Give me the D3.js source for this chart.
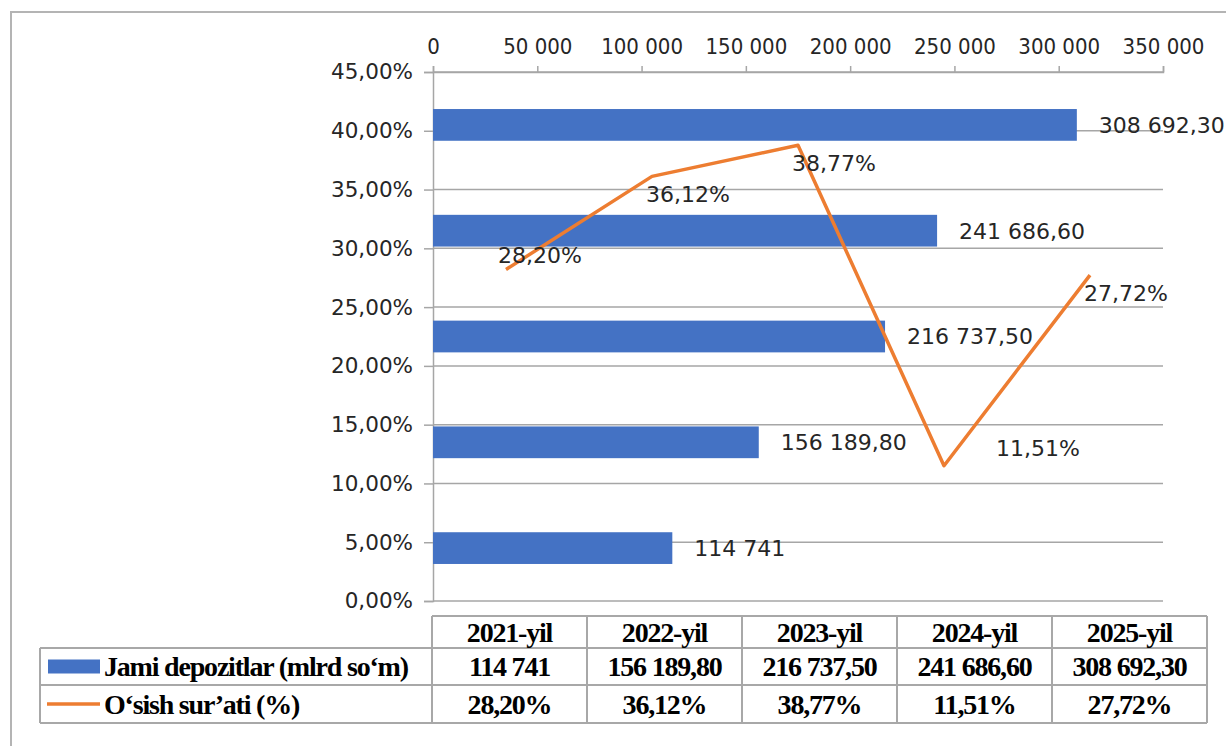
<!DOCTYPE html>
<html><head><meta charset="utf-8">
<script src="https://cdn.jsdelivr.net/npm/d3@7/dist/d3.min.js"></script>
<style>
html,body{margin:0;padding:0;background:#fff;}
svg{display:block;}
</style></head>
<body>
<svg id="chart" width="1226" height="746"></svg>
<script>
const years = ["2021-yil","2022-yil","2023-yil","2024-yil","2025-yil"];
const deposits = [114741, 156189.80, 216737.50, 241686.60, 308692.30];
const depositLabels = ["114 741","156 189,80","216 737,50","241 686,60","308 692,30"];
const growth = [0.2820, 0.3612, 0.3877, 0.1151, 0.2772];
const growthLabels = ["28,20%","36,12%","38,77%","11,51%","27,72%"];
const xTicks = [0,50000,100000,150000,200000,250000,300000,350000];
const yTicks = [0,0.05,0.10,0.15,0.20,0.25,0.30,0.35,0.40,0.45];
const seriesNames = ["Jami depozitlar (mlrd so\u2018m)","O\u2018sish sur\u2019ati  (%)"];
const growthLabelPlace = ["above","below","below","right","below"];

const BLUE = "#4472C4", ORANGE = "#ED7D31", GRID = "#a6a6a6", TEXT = "#262626";
const locale = d3.formatLocale({decimal:",", thousands:" ", grouping:[3], currency:["",""]});

const svg = d3.select("#chart");
const L = 433, R = 1163, T = 72, B = 601;

// outer frame
svg.append("rect").attr("x",11).attr("y",12).attr("width",1300).attr("height",800)
  .attr("fill","none").attr("stroke","#b4b4b4").attr("stroke-width",2);

const x = d3.scaleLinear().domain([0,350000]).range([L,R]);
const y = d3.scaleLinear().domain([0,0.45]).range([B,T]);
const yBand = d3.scaleBand().domain(years.slice().reverse()).range([T,B]).paddingInner(0.7).paddingOuter(0.35);
const xCat = d3.scaleBand().domain(years).range([L,R]);

// gridlines
svg.append("g").selectAll("line").data(yTicks).join("line")
  .attr("x1",L).attr("x2",R).attr("y1",d=>y(d)).attr("y2",d=>y(d))
  .attr("stroke",GRID).attr("stroke-width",1.5);

// left axis
const gy = svg.append("g").attr("transform",`translate(${L},0)`)
  .call(d3.axisLeft(y).tickValues(yTicks).tickFormat(locale.format(".2%")).tickSize(9).tickPadding(11));
gy.select(".domain").attr("stroke",GRID).attr("stroke-width",1.5);
gy.selectAll(".tick line").attr("stroke",GRID).attr("stroke-width",1.5);
gy.selectAll("text").attr("font-family","DejaVu Sans").attr("font-size",21.5).attr("fill",TEXT);

// top axis
const gx = svg.append("g").attr("transform",`translate(0,${T})`)
  .call(d3.axisTop(x).tickValues(xTicks).tickFormat(locale.format(",d")).tickSize(6).tickPadding(12));
gx.select(".domain").attr("stroke",GRID).attr("stroke-width",1.5);
gx.selectAll(".tick line").attr("stroke",GRID).attr("stroke-width",1.5);
gx.selectAll("text").attr("font-family","DejaVu Sans Condensed").attr("font-size",22).attr("fill",TEXT);

// bars
svg.append("g").selectAll("rect").data(years).join("rect")
  .attr("x",L).attr("y",d=>yBand(d)).attr("height",yBand.bandwidth())
  .attr("width",(d,i)=>x(deposits[i])-L).attr("fill",BLUE);

// bar labels
svg.append("g").selectAll("text").data(years).join("text")
  .attr("x",(d,i)=>x(deposits[i])+22).attr("y",d=>yBand(d)+yBand.bandwidth()/2)
  .attr("dy","0.36em").attr("font-family","DejaVu Sans").attr("font-size",22).attr("fill",TEXT)
  .text((d,i)=>depositLabels[i]);

// line
const pts = years.map((d,i)=>[xCat(d)+xCat.bandwidth()/2, y(growth[i])]);
svg.append("path").attr("d",d3.line()(pts)).attr("fill","none").attr("stroke",ORANGE)
  .attr("stroke-width",3.5).attr("stroke-linejoin","round");

// line labels
const off = {above:[-8,-6], below:[-6,26], right:[52,-10]};
svg.append("g").selectAll("text").data(years).join("text")
  .attr("x",(d,i)=>pts[i][0]+off[growthLabelPlace[i]][0])
  .attr("y",(d,i)=>pts[i][1]+off[growthLabelPlace[i]][1])
  .attr("font-family","DejaVu Sans").attr("font-size",22).attr("fill",TEXT)
  .text((d,i)=>growthLabels[i]);

// data table
const tL = 432, tR = 1207, legL = 40;
const rows = [616, 648, 685, 723];
const col = d3.scaleBand().domain(years).range([tL,tR]);
const tg = svg.append("g");
const tStroke = "#a8a8a8";
tg.append("line").attr("x1",tL).attr("x2",tR).attr("y1",rows[0]).attr("y2",rows[0]).attr("stroke",tStroke).attr("stroke-width",2);
[1,2,3].forEach(r=>tg.append("line").attr("x1",legL).attr("x2",tR).attr("y1",rows[r]).attr("y2",rows[r]).attr("stroke",tStroke).attr("stroke-width",2));
tg.append("line").attr("x1",legL).attr("x2",legL).attr("y1",rows[1]).attr("y2",rows[3]).attr("stroke",tStroke).attr("stroke-width",2);
years.forEach(d=>tg.append("line").attr("x1",col(d)).attr("x2",col(d)).attr("y1",rows[0]).attr("y2",rows[3]).attr("stroke",tStroke).attr("stroke-width",2));
tg.append("line").attr("x1",tR).attr("x2",tR).attr("y1",rows[0]).attr("y2",rows[3]).attr("stroke",tStroke).attr("stroke-width",2);

function cellText(xc, yc, txt, anchor, ls){
  tg.append("text").attr("x",xc).attr("y",yc).attr("dy","0.35em")
    .attr("text-anchor",anchor||"middle").attr("font-family","Liberation Serif").attr("font-size",28)
    .attr("font-weight","bold").attr("letter-spacing",ls==null?"-1.2":ls).attr("fill","#000").text(txt);
}
years.forEach((d,i)=>{
  const cx = col(d)+col.bandwidth()/2;
  cellText(cx,(rows[0]+rows[1])/2,d);
  cellText(cx,(rows[1]+rows[2])/2,depositLabels[i]);
  cellText(cx,(rows[2]+rows[3])/2,growthLabels[i]);
});
tg.append("rect").attr("x",48).attr("y",(rows[1]+rows[2])/2-7).attr("width",52).attr("height",14).attr("fill",BLUE);
tg.append("line").attr("x1",47).attr("x2",100).attr("y1",(rows[2]+rows[3])/2).attr("y2",(rows[2]+rows[3])/2)
  .attr("stroke",ORANGE).attr("stroke-width",3.5);
cellText(104,(rows[1]+rows[2])/2,seriesNames[0],"start","-1.2");
cellText(104,(rows[2]+rows[3])/2,seriesNames[1],"start","-1.2");
</script>
</body></html>
